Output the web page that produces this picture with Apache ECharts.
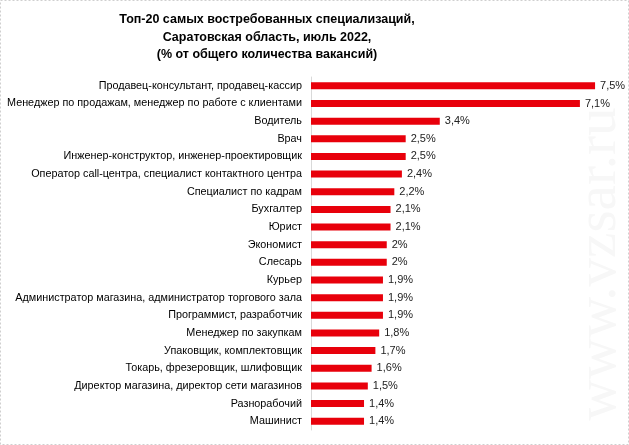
<!DOCTYPE html>
<html>
<head>
<meta charset="utf-8">
<script src="https://cdn.jsdelivr.net/npm/echarts@6/dist/echarts.min.js"></script>
<style>
  html, body { margin: 0; padding: 0; background: #fff; }
  #chart { width: 629px; height: 445px; }
</style>
</head>
<body>
<div id="chart"></div>
<script>
const categories = [
  'Продавец-консультант, продавец-кассир',
  'Менеджер по продажам, менеджер по работе с клиентами',
  'Водитель',
  'Врач',
  'Инженер-конструктор, инженер-проектировщик',
  'Оператор call-центра, специалист контактного центра',
  'Специалист по кадрам',
  'Бухгалтер',
  'Юрист',
  'Экономист',
  'Слесарь',
  'Курьер',
  'Администратор магазина, администратор торгового зала',
  'Программист, разработчик',
  'Менеджер по закупкам',
  'Упаковщик, комплектовщик',
  'Токарь, фрезеровщик, шлифовщик',
  'Директор магазина, директор сети магазинов',
  'Разнорабочий',
  'Машинист'
]
const values = [7.5, 7.1, 3.4, 2.5, 2.5, 2.4, 2.2, 2.1, 2.1, 2, 2, 1.9, 1.9, 1.9, 1.8, 1.7, 1.6, 1.5, 1.4, 1.4]

const titleLines = [
  'Топ-20 самых востребованных специализаций,',
  'Саратовская область, июль 2022,',
  '(% от общего количества вакансий)'
]

const chart = echarts.init(document.getElementById('chart'))

const option = {
  animation: false,
  backgroundColor: '#fff',
  title: {
    text: titleLines.join('\n'),
    left: 262,
    top: 6,
    textAlign: 'center',
    textStyle: {
      fontFamily: 'Liberation Sans',
      fontSize: 12.5,
      fontWeight: 'bold',
      color: '#000',
      lineHeight: 17.5
    }
  },
  grid: {
    left: 311,
    right: 15,
    top: 77,
    bottom: 15
  },
  xAxis: {
    type: 'value',
    min: 0,
    max: 8,
    show: false
  },
  yAxis: {
    type: 'category',
    inverse: true,
    data: categories,
    axisLine: { lineStyle: { color: '#d9d9d9', width: 1 } },
    axisTick: { show: false },
    axisLabel: {
      margin: 9,
      fontFamily: 'Liberation Sans',
      fontSize: 10.8,
      color: '#000'
    }
  },
  series: [
    {
      type: 'bar',
      data: values,
      barWidth: 7,
      itemStyle: { color: '#e8000b' },
      label: {
        show: true,
        position: 'right',
        distance: 5,
        fontFamily: 'Liberation Sans',
        fontSize: 11,
        color: '#222',
        formatter: p => String(p.value).replace('.', ',') + '%'
      },
      z: 3
    }
  ],
  graphic: [
    {
      type: 'rect',
      shape: { x: 0.5, y: 0.5, width: 628, height: 444 },
      style: { fill: 'none', stroke: '#cfcfcf', lineWidth: 1, lineDash: [2, 2] },
      silent: true
    },
    {
      type: 'text',
      x: 600,
      y: 264,
      rotation: Math.PI / 2,
      z: 1,
      style: {
        text: 'www.vzsar.ru',
        font: '57px "Liberation Serif"',
        fill: '#f7f7f7',
        align: 'center',
        verticalAlign: 'middle',
        shadowColor: 'rgba(0,0,0,0.4)',
        shadowBlur: 4,
        shadowOffsetX: 1,
        shadowOffsetY: 2
      },
      silent: true
    }
  ]
}

chart.setOption(option)
</script>
</body>
</html>
